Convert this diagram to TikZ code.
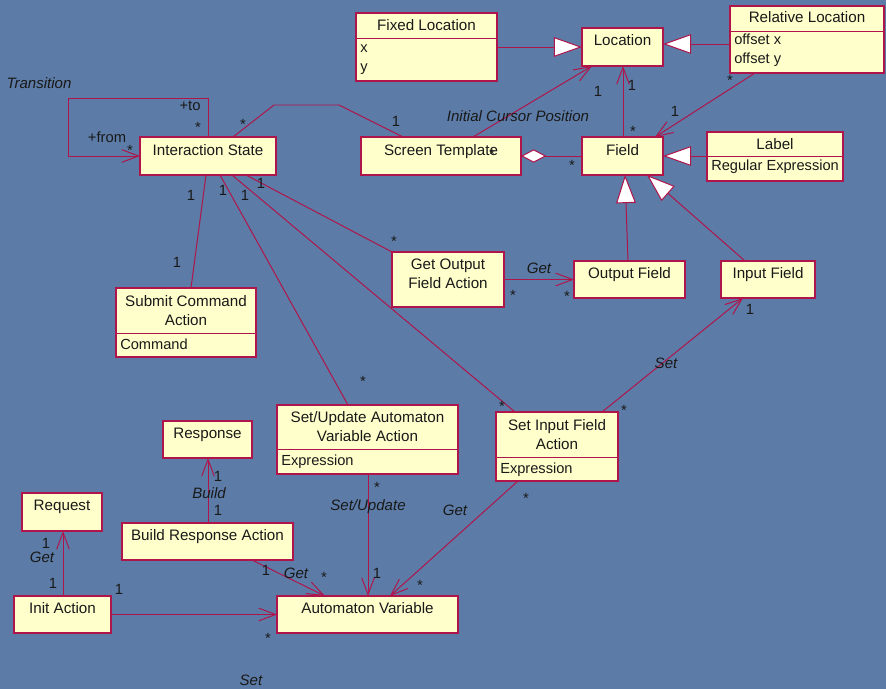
\documentclass[tikz,border=0pt]{standalone}
\usepackage{fontspec}
\setmainfont{Liberation Sans}
\usetikzlibrary{calc,arrows.meta}
\definecolor{bgblue}{RGB}{92,123,166}
\definecolor{umlfill}{RGB}{255,255,204}
\definecolor{umlred}{RGB}{175,20,75}
\definecolor{umlink}{RGB}{25,25,25}
\tikzset{
	umlbox/.style={draw=umlred, fill=umlfill, line width=0.8pt, inner sep=0pt, outer sep=0pt},
	umlline/.style={draw=umlred, line width=0.7pt},
	ttl/.style={anchor=base, align=center, inner sep=0pt, text=umlink, font=\fontsize{10.8}{13.5}\selectfont},
	attr/.style={anchor=base west, inner sep=0pt, text=umlink, font=\fontsize{10.4}{13.5}\selectfont},
	mult/.style={inner sep=0pt, text=umlink, font=\fontsize{10.5}{12}\selectfont},
	role/.style={inner sep=0pt, text=umlink, font=\fontsize{10.7}{12}\selectfont\itshape},
	assoc/.style={umlline, >={Straight Barb[length=12pt,width=9pt]}},
	gen/.style={umlline, -{Triangle[open,fill=white,length=20pt,width=14pt]}},
	agg/.style={umlline, {Diamond[open,fill=white,length=18pt,width=9.5pt]}-},
}
\def\umlbox(#1)(#2,#3)(#4,#5){\node[umlbox, minimum width={(#4-#2)*0.025cm}, minimum height={(#5-#3)*0.025cm}] (#1) at ({(#2+#4)/2},{(#3+#5)/2}) {};}
\def\umlsep(#1)(#2){\draw[umlline] (#1.west |- 0,#2) -- (#1.east |- 0,#2);}
\begin{document}
\begin{tikzpicture}[x=0.025cm, y=-0.025cm]
			%%%%% START %%%%%
			
			\fill[bgblue] (0,0) rectangle (886,689);
			\useasboundingbox (0,0) rectangle (886,689);
			
			% classes
			\umlbox(fixloc)(356,13)(497,81)
			\umlsep(fixloc)(38)
			\node[ttl] (fixlocT) at ($(fixloc.north)+(0,18)$) {Fixed Location};
			\node[attr] (fixlocA) at ($(fixloc.west |- 0,38)+(4,15)$) {x};
			\node[attr] (fixlocB) at ($(fixloc.west |- 0,38)+(4,34)$) {y};
			
			\umlbox(loc)(582,28)(663,66)
			\node[ttl] (locT) at ($(loc.north)+(0,18)$) {Location};
			
			\umlbox(relloc)(730,6)(884,73)
			\umlsep(relloc)(31)
			\node[ttl] (rellocT) at ($(relloc.north)+(0,17)$) {Relative Location};
			\node[attr] (rellocA) at ($(relloc.west |- 0,31)+(4,14)$) {offset x};
			\node[attr] (rellocB) at ($(relloc.west |- 0,31)+(4,33)$) {offset y};
			
			\umlbox(st)(361,137)(521,175)
			\node[ttl] (stT) at ($(st.north)+(0,18)$) {Screen Template};
			
			\umlbox(fld)(582,137)(663,175)
			\node[ttl] (fldT) at ($(fld.north)+(0,18)$) {Field};
			
			\umlbox(lbl)(707,132)(843,181)
			\umlsep(lbl)(156)
			\node[ttl] (lblT) at ($(lbl.north)+(0,17)$) {Label};
			\node[attr] (lblA) at ($(lbl.west |- 0,156)+(4,15)$) {Regular Expression};
			
			\umlbox(is)(140,137)(276,175)
			\node[ttl] (isT) at ($(is.north)+(0,18)$) {Interaction State};
			
			% two-line titles: base sits on the second line
			\umlbox(goa)(392,252)(504,307)
			\node[ttl] (goaT) at ($(goa.north)+(0,36)$) {Get Output\\Field Action};
			
			\umlbox(of)(574,261)(685,298)
			\node[ttl] (ofT) at ($(of.north)+(0,17)$) {Output Field};
			
			\umlbox(inf)(721,261)(815,298)
			\node[ttl] (infT) at ($(inf.north)+(0,17)$) {Input Field};
			
			\umlbox(sca)(116,288)(256,357)
			\umlsep(sca)(333)
			\node[ttl] (scaT) at ($(sca.north)+(0,37)$) {Submit Command\\Action};
			\node[attr] (scaA) at ($(sca.west |- 0,333)+(4,16)$) {Command};
			
			\umlbox(sua)(277,405)(458,474)
			\umlsep(sua)(449)
			\node[ttl] (suaT) at ($(sua.north)+(0,36)$) {Set/Update Automaton\\Variable Action};
			\node[attr] (suaA) at ($(sua.west |- 0,449)+(4,16)$) {Expression};
			
			\umlbox(sia)(496,412)(618,481)
			\umlsep(sia)(457)
			\node[ttl] (siaT) at ($(sia.north)+(0,37)$) {Set Input Field\\Action};
			\node[attr] (siaA) at ($(sia.west |- 0,457)+(4,16)$) {Expression};
			
			\umlbox(resp)(163,421)(252,458)
			\node[ttl] (respT) at ($(resp.north)+(0,17)$) {Response};
			
			\umlbox(req)(22,493)(102,531)
			\node[ttl] (reqT) at ($(req.north)+(0,17)$) {Request};
			
			\umlbox(bra)(122,523)(293,560)
			\node[ttl] (braT) at ($(bra.north)+(0,17)$) {Build Response Action};
			
			\umlbox(init)(14,596)(111,633)
			\node[ttl] (initT) at ($(init.north)+(0,17)$) {Init Action};
			
			\umlbox(av)(277,596)(458,633)
			\node[ttl] (avT) at ($(av.north)+(0,17)$) {Automaton Variable};
			
			% generalisations and aggregation
			\draw[gen] (fixloc.east |- loc.west) -- (loc.west);
			\draw[gen] (relloc.west |- 0,44) -- (loc.east |- 0,44);
			\draw[gen] (lbl.west |- fld.east) -- (fld.east);
			\draw[gen] (628,0 |- of.north) -- (625,0 |- fld.south);
			\draw[gen] (745,0 |- inf.north) -- (647,0 |- fld.south);
			\draw[agg] (st.east) -- (fld.west);
			
			% associations
			\draw[assoc, ->] (208,0 |- is.north) |- (68,98) |- (is.west);
			\draw[assoc] (233,0 |- is.north) -- (274,105) -- (339,105) -- (403,0 |- st.north);
			\draw[assoc, ->] (473,0 |- st.north) -- (592,0 |- loc.south);
			\draw[assoc, ->] (623,0 |- fld.north) -- (623,0 |- loc.south);
			\draw[assoc, ->] (755,0 |- relloc.south) -- (655,0 |- fld.north);
			
			\draw[assoc] (206,0 |- is.south) -- (191,0 |- sca.north);
			\draw[assoc] (220,0 |- is.south) -- (348,0 |- sua.north);
			\draw[assoc] (232,0 |- is.south) -- (515,0 |- sia.north);
			\draw[assoc] (246,0 |- is.south) -- (goa.north west);
			\draw[assoc, ->] (goa.east |- of.west) -- (of.west);
			\draw[assoc, ->] (602,0 |- sia.north) -- (743,0 |- inf.south);
			
			\draw[assoc, ->] (518,0 |- sia.south) -- (390,0 |- av.north);
			\draw[assoc, ->] (368,0 |- sua.south) -- (368,0 |- av.north);
			\draw[assoc, ->] (252,0 |- bra.south) -- (325,0 |- av.north);
			\draw[assoc, ->] (208,0 |- bra.north) -- (208,0 |- resp.south);
			\draw[assoc, ->] (63,0 |- init.north) -- (63,0 |- req.south);
			\draw[assoc, ->] (init.east) -- (av.west);
			
			% role names
			\node[role] (rTr) at (39,83) {Transition};
			\node[role] (rIcp) at (518,116) {Initial Cursor Position};
			\node[role] (rGet1) at (539,268) {Get};
			\node[role] (rSet1) at (666,363) {Set};
			\node[role] (rBld) at (209,493) {Build};
			\node[role] (rGet2) at (42,557) {Get};
			\node[role] (rGet3) at (296,573) {Get};
			\node[role] (rSu) at (368,507) {Set/Update};
			\node[role] (rGet4) at (455,510) {Get};
			\node[role] (rSet2) at (251,680) {Set};
			
			% multiplicities
			\node[mult] (mTo) at (190,106) {+to};
			\node[mult] (mFrom) at (107,137) {+from};
			\node[mult] (m1) at (198,127) {*};
			\node[mult] (m2) at (130,150) {*};
			\node[mult] (m3) at (243,124) {*};
			\node[mult] (m4) at (396,121) {1};
			\node[mult] (m5) at (492,154) {*};
			\node[mult] (m6) at (598,91) {1};
			\node[mult] (m7) at (632,85) {1};
			\node[mult] (m8) at (633,131) {*};
			\node[mult] (m9) at (730,80) {*};
			\node[mult] (m10) at (675,111) {1};
			\node[mult] (m11) at (572,165) {*};
			\node[mult] (m12) at (191,195) {1};
			\node[mult] (m13) at (177,262) {1};
			\node[mult] (m14) at (223,190) {1};
			\node[mult] (m15) at (245,195) {1};
			\node[mult] (m16) at (261,183) {1};
			\node[mult] (m17) at (394,241) {*};
			\node[mult] (m18) at (513,295) {*};
			\node[mult] (m19) at (567,296) {*};
			\node[mult] (m20) at (750,309) {1};
			\node[mult] (m21) at (624,410) {*};
			\node[mult] (m22) at (502,406) {*};
			\node[mult] (m23) at (363,381) {*};
			\node[mult] (m24) at (218,476) {1};
			\node[mult] (m25) at (218,510) {1};
			\node[mult] (m26) at (46,543) {1};
			\node[mult] (m27) at (53,583) {1};
			\node[mult] (m28) at (119,589) {1};
			\node[mult] (m29) at (268,638) {*};
			\node[mult] (m30) at (266,570) {1};
			\node[mult] (m31) at (324,577) {*};
			\node[mult] (m32) at (377,487) {*};
			\node[mult] (m33) at (377,573) {1};
			\node[mult] (m34) at (420,585) {*};
			\node[mult] (m35) at (526,498) {*};
			
			%%%%% END %%%%%
\end{tikzpicture}
\end{document}
